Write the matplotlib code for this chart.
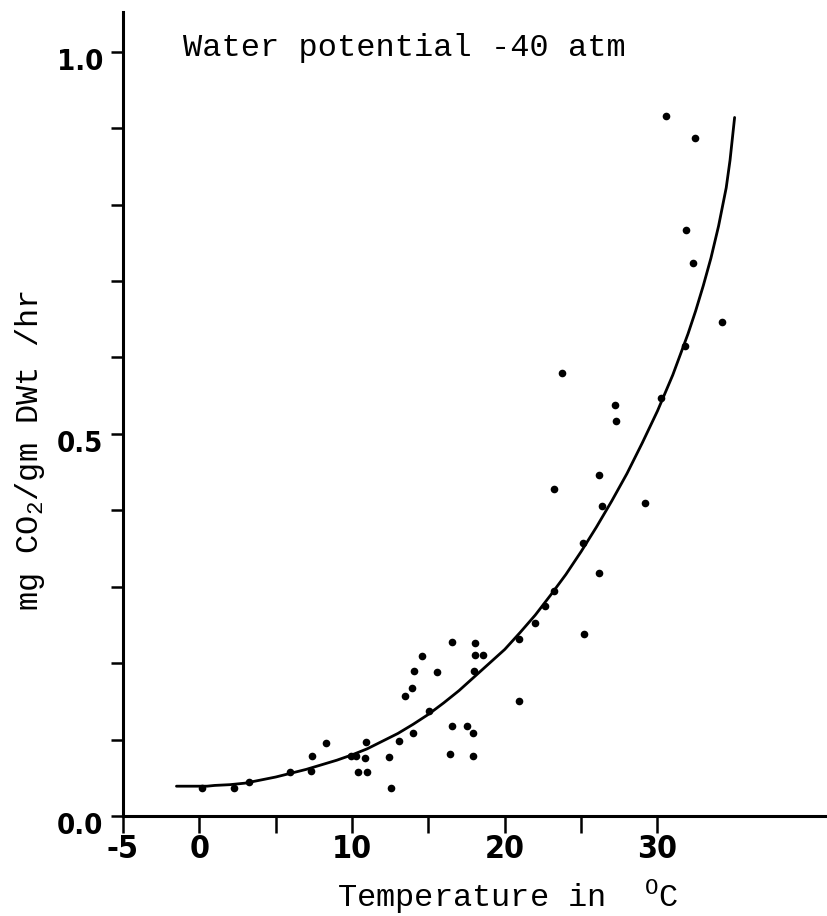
import numpy as np
import matplotlib
matplotlib.use("Agg")
import matplotlib.pyplot as plt
import matplotlib.transforms as mtransforms

# --- data ---
temp_pts = [0.2, 2.3, 3.25, 5.95, 7.3, 7.35, 8.3, 9.95, 10.25, 10.85, 10.9, 10.4,
            10.95, 12.4, 12.55, 13.05, 14.0, 15.05, 13.45, 13.95, 14.05, 14.55,
            15.55, 16.55, 16.55, 17.55, 17.95, 16.4, 17.95, 18.05, 18.05, 18.6,
            18.0, 20.9, 20.95, 22.0, 22.65, 23.2, 25.2, 25.15, 26.2, 26.35,
            26.15, 23.25, 27.2, 27.3, 29.2, 30.25, 31.8, 34.25, 32.35, 31.85,
            30.55, 32.45, 23.75]
resp_pts = [0.036, 0.036, 0.045, 0.057, 0.059, 0.078, 0.096, 0.078, 0.079, 0.076,
            0.097, 0.057, 0.057, 0.077, 0.037, 0.098, 0.108, 0.138, 0.157, 0.168,
            0.190, 0.209, 0.189, 0.228, 0.118, 0.118, 0.108, 0.081, 0.079, 0.226,
            0.211, 0.211, 0.190, 0.232, 0.151, 0.252, 0.275, 0.294, 0.238, 0.357,
            0.318, 0.406, 0.446, 0.428, 0.538, 0.517, 0.409, 0.547, 0.615, 0.647,
            0.724, 0.767, 0.916, 0.887, 0.580]

# fitted curve, traced by eye
curve_t = [-1.5, -0.5, 0.5, 1, 2, 3, 4, 5, 6, 7, 8, 9, 10, 11, 12, 13, 14, 15,
           16, 17, 18, 19, 20, 21, 22, 23, 24, 25, 26, 27, 28, 29, 30, 31, 32,
           32.5, 33, 33.5, 34, 34.5, 34.75, 35.05]
curve_r = [0.039, 0.039, 0.039, 0.040, 0.041, 0.043, 0.047, 0.051, 0.056, 0.061,
           0.067, 0.073, 0.080, 0.088, 0.098, 0.108, 0.120, 0.133, 0.148, 0.164,
           0.182, 0.200, 0.218, 0.240, 0.263, 0.289, 0.316, 0.346, 0.378, 0.412,
           0.448, 0.488, 0.530, 0.577, 0.631, 0.661, 0.694, 0.730, 0.772, 0.822,
           0.858, 0.914]

xtick_pos = [-5, 0, 5, 10, 15, 20, 25, 30]
xtick_lab = ["-5", "0", "", "10", "", "20", "", "30"]
ytick_pos = [0.0, 0.1, 0.2, 0.3, 0.4, 0.5, 0.6, 0.7, 0.8, 0.9, 1.0]
ytick_lab = ["0.0", "", "", "", "", "0.5", "", "", "", "", "1.0"]

W, H = 827, 916
mono = "Liberation Mono"
xbold = dict(family="DejaVu Sans", weight="bold", stretch="condensed", size=23)
ybold = dict(family="DejaVu Sans", weight="bold", stretch="condensed", size=21)

fig = plt.figure(figsize=(W / 100, H / 100), dpi=100)
ax = fig.add_axes([123 / W, 100 / H, 704 / W, 804 / H])

ax.plot(curve_t, curve_r, color="black", lw=2.0, solid_joinstyle="round",
        solid_capstyle="round")
ax.plot(temp_pts, resp_pts, "o", color="black", ms=5.5, mec="none")

ax.set_xlim(-5, 41.1)
ax.set_ylim(0, 1.052)
for s in ["top", "right"]:
    ax.spines[s].set_visible(False)
for s in ["left", "bottom"]:
    ax.spines[s].set_linewidth(2.2)

ax.set_xticks(xtick_pos)
ax.set_xticklabels(xtick_lab, fontdict=xbold)
ax.set_yticks(ytick_pos)
ax.set_yticklabels(ytick_lab, fontdict=ybold)
ax.tick_params(axis="x", direction="out", length=12, width=1.8, pad=1)
ax.tick_params(axis="y", direction="out", length=9, width=1.8, pad=5)

# y tick labels sit a little below their ticks in the scan
shift = mtransforms.ScaledTranslation(0, -5 / 72, fig.dpi_scale_trans)
for lab in ax.get_yticklabels():
    lab.set_transform(lab.get_transform() + shift)

ax.text(-1.1, 1.005, "Water potential -40 atm", family=mono, fontsize=23,
        ha="left", va="center")

fig.text(30 / W, 1 - 450 / H, r"mg CO$_\mathregular{2}$/gm DWt /hr", family=mono,
         fontsize=23, rotation=90, ha="center", va="center")
# degree mark is a raised "O" in the original
fig.text(337 / W, 1 - 897 / H, r"Temperature in  $^\mathregular{O}$C", family=mono,
         fontsize=23, ha="left", va="center")

fig.savefig("out.png", dpi=100)
